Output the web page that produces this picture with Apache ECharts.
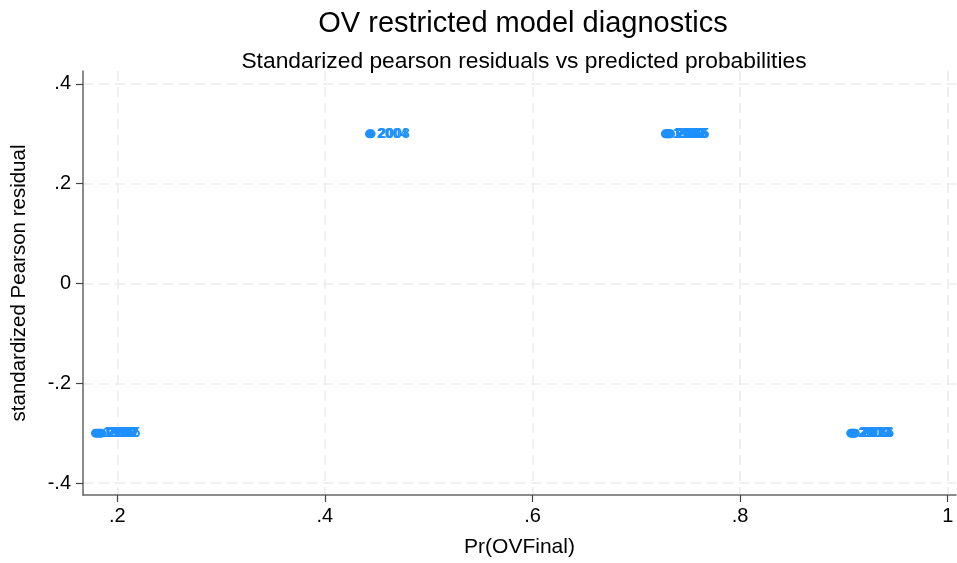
<!DOCTYPE html>
<html><head><meta charset="utf-8">
<script src="https://cdn.jsdelivr.net/npm/echarts@6/dist/echarts.min.js"></script>
<style>html,body{margin:0;padding:0;background:#fff}#c{width:957px;height:563px}</style>
</head><body><div id="c"></div>
<script>
const predicted = [0.179, 0.1805, 0.182, 0.1835, 0.185,
                   0.443, 0.4445,
                   0.728, 0.729, 0.730, 0.731, 0.732, 0.733,
                   0.9066, 0.908, 0.909, 0.910, 0.911];
const residual = [-0.3, -0.3, -0.3, -0.3, -0.3,
                  0.3, 0.3,
                  0.3, 0.3, 0.3, 0.3, 0.3, 0.3,
                  -0.3, -0.3, -0.3, -0.3, -0.3];
const years = ['1996', '1998', '2000', '2002', '2005',
               '2004', '2008',
               '1997', '1999', '2001', '2003', '2006', '2015',
               '2009', '2010', '2012', '2014', '2016'];
const xTicks = [0.2, 0.4, 0.6, 0.8, 1];
const yTicks = [-0.4, -0.2, 0, 0.2, 0.4];

const fmt = v => {
  if (Math.abs(v) < 1e-9) return '0';
  let s = (+v.toFixed(4)).toString();
  return s.replace(/^(-?)0\./, '$1.');
};
const FONT = '"Liberation Sans", Arial, Helvetica, sans-serif';
const chart = echarts.init(document.getElementById('c'));
const gridLine = {show: true, lineStyle: {color: '#ebebeb', type: [10, 6], width: 1.5}};
chart.setOption({
  animation: false,
  backgroundColor: '#fff',
  title: [
    {text: 'OV restricted model diagnostics', left: 518, top: 4, textAlign: 'center',
     textStyle: {fontFamily: FONT, fontSize: 29, fontWeight: 'normal', color: '#000'}},
    {text: 'Standarized pearson residuals vs predicted probabilities', left: 519, top: 45, textAlign: 'center',
     textStyle: {fontFamily: FONT, fontSize: 22.8, fontWeight: 'normal', color: '#000'}}
  ],
  grid: {left: 83, right: 1, top: 71, bottom: 68, outerBoundsMode: 'none', containLabel: false},
  xAxis: {
    type: 'value', min: 0.167, max: 1.008,
    name: 'Pr(OVFinal)', nameLocation: 'middle', nameGap: 42,
    nameTextStyle: {fontFamily: FONT, fontSize: 21, color: '#000'},
    axisLine: {show: true, onZero: false, lineStyle: {color: '#666', width: 1.5}},
    axisTick: {show: true, length: 7, customValues: xTicks, lineStyle: {color: '#444', width: 1.2}},
    axisLabel: {customValues: xTicks, formatter: fmt, fontFamily: FONT, fontSize: 20, color: '#000', margin: 11},
    splitLine: gridLine
  },
  yAxis: {
    type: 'value', min: -0.424, max: 0.426,
    name: 'standardized Pearson residual', nameLocation: 'middle', nameGap: 53, nameRotate: 90,
    nameTextStyle: {fontFamily: FONT, fontSize: 20.5, color: '#000'},
    axisLine: {show: true, onZero: false, lineStyle: {color: '#666', width: 1.5}},
    axisTick: {show: true, length: 7, customValues: yTicks, lineStyle: {color: '#444', width: 1.2}},
    axisLabel: {customValues: yTicks, formatter: fmt, fontFamily: FONT, fontSize: 20, color: '#000', margin: 12},
    splitLine: gridLine
  },
  series: [{
    type: 'scatter',
    symbolSize: 9,
    itemStyle: {color: '#1e90ff', opacity: 1},
    data: predicted.map((x, i) => [x, residual[i], years[i]]),
    label: {
      show: true, position: 'right', distance: 3,
      formatter: p => p.data[2],
      fontFamily: FONT, fontSize: 14, fontWeight: 'bold', color: '#1e90ff'
    }
  }]
});
</script></body></html>
